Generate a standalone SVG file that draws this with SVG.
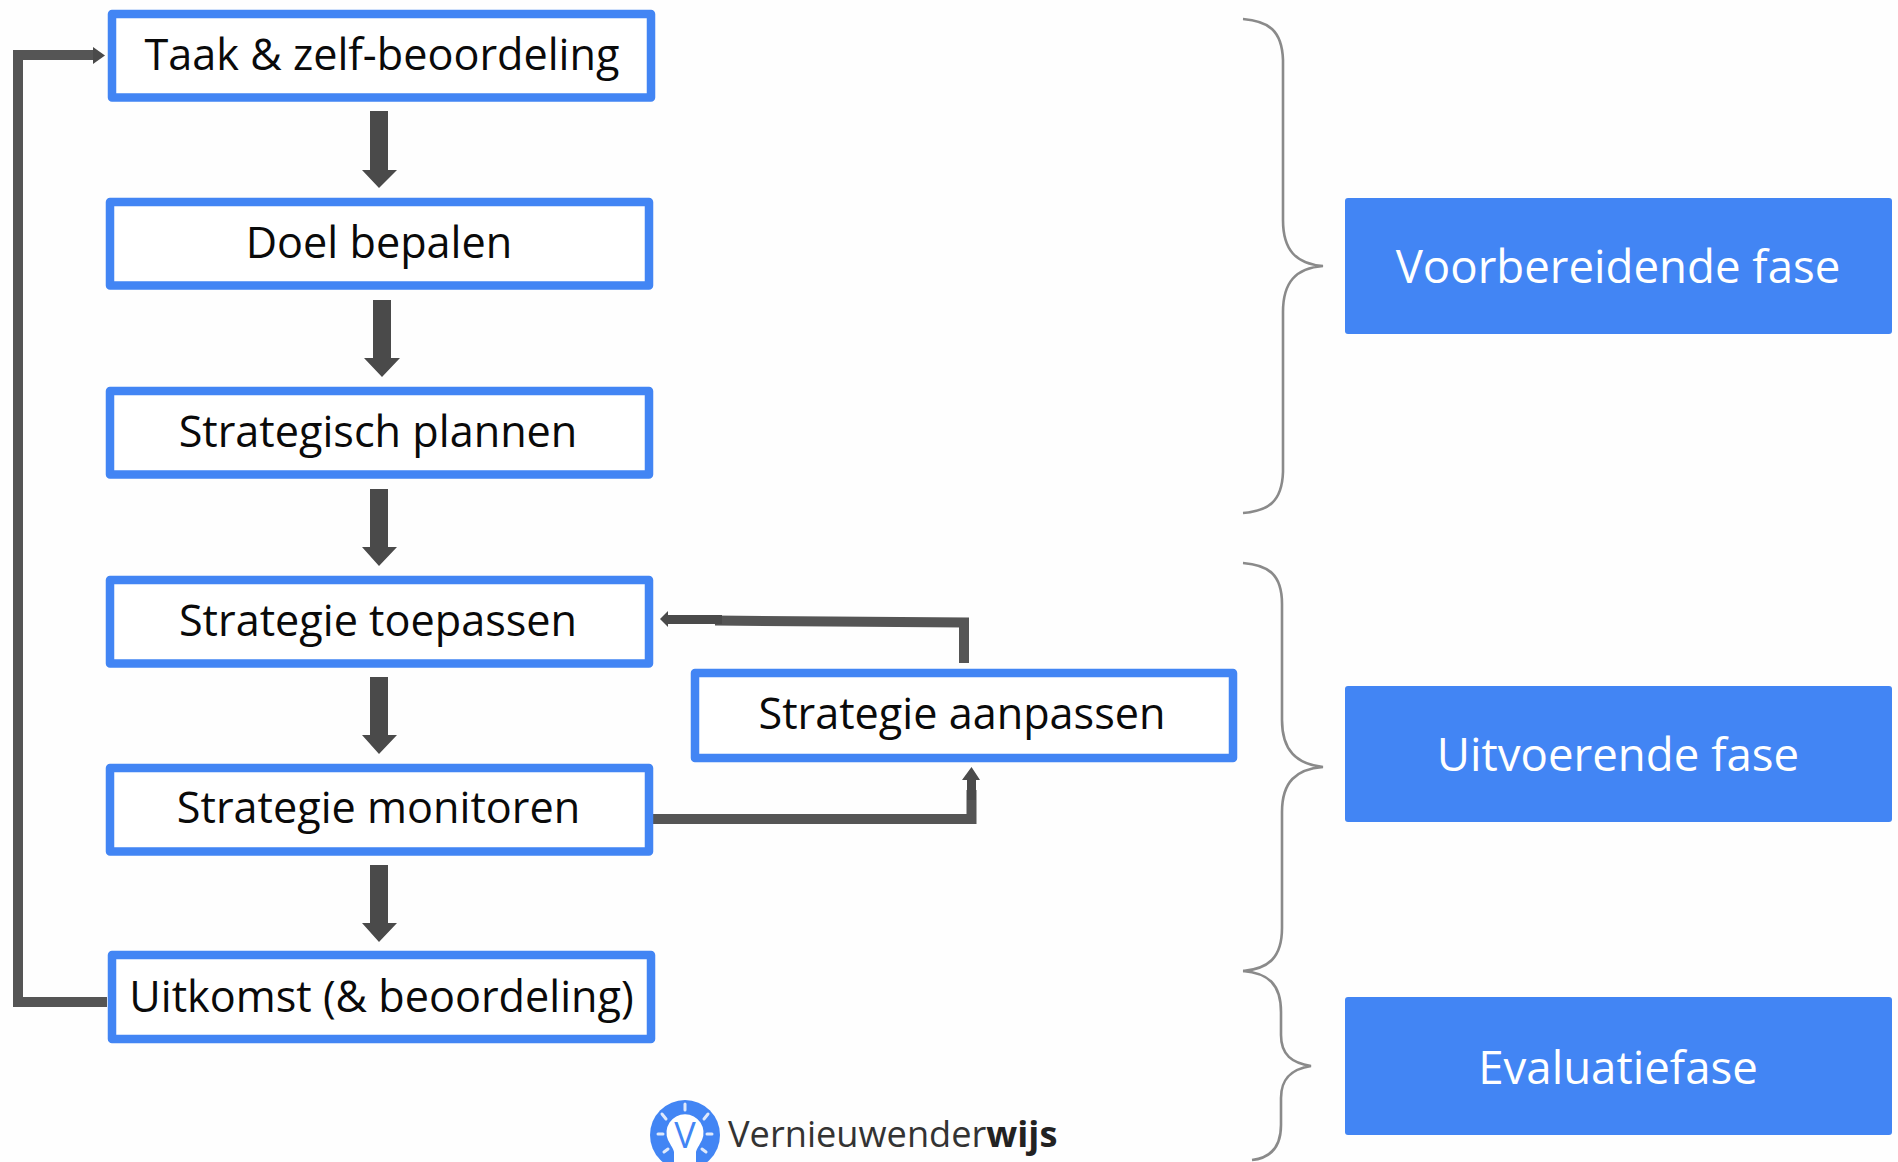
<svg xmlns="http://www.w3.org/2000/svg" width="1898" height="1162" viewBox="0 0 1898 1162">
<style>
.box{fill:#fff;stroke:#4285f4;stroke-width:8.5;stroke-linejoin:round}
.phase{fill:#4285f4}
.t{font-family:"Open Sans",sans-serif;font-size:43.2px;fill:#0a0a0a;text-anchor:middle}
.p{font-family:"Open Sans",sans-serif;font-size:45.600px;fill:#fff;text-anchor:middle}
.ar{fill:#4a4a4a}
.ln{fill:none;stroke:#555;stroke-width:10;stroke-linejoin:miter}
.br{fill:none;stroke:#8a8a8a;stroke-width:2.6}
</style>
<rect width="1898" height="1162" fill="#fefefe"/>
<g id="connectors">
<path class="ar" id="a1" d="M370 111H388V170H397L379 188L362 170H370Z"/>
<path class="ar" id="a2" d="M373 300H391V358H400L382 377L364 358H373Z"/>
<path class="ar" id="a3" d="M370 489H388V547H397L379 566L362 547H370Z"/>
<path class="ar" id="a4" d="M370 677H388V735H397L379 754L362 735H370Z"/>
<path class="ar" id="a5" d="M370 865H388V923H397L379 942L362 923H370Z"/>
<path class="ln" id="c1" d="M107 1002H18V55H95"/>
<path class="ar" d="M93 47L105 55.500L93 64Z"/>
<path class="ln" d="M964 663V622.500L715 620.500"/>
<path class="ar" d="M660 619L668 611V615H722V624H668V627Z"/>
<path class="ln" d="M650 819H971.500V790"/>
<path class="ar" d="M971.500 767L980 780H976V800H967V780H962Z"/>
</g>
<g id="braces">
<path class="br" d="M1243 19C1268 21 1282 30 1283 60V220C1283 250 1296 264 1323 266C1296 268 1283 282 1283 312V472C1282 502 1268 511 1243 513"/>
<path class="br" d="M1243 563C1268 565 1282 574 1282 604V720C1282 750 1296 764 1323 767C1296 769 1282 782 1282 812V928C1282 958 1268 969 1243 971"/>
<path class="br" d="M1243 971C1268 973 1281 984 1281 1012V1035C1281 1055 1292 1063 1311 1066C1292 1069 1281 1078 1281 1098V1125C1281 1148 1270 1158 1252 1160"/>
</g>
<g id="n1"><rect class="box" x="112" y="14" width="539" height="83.500"/><text class="t" x="382" y="70">Taak &amp; zelf-beoordeling</text></g>
<g id="n2"><rect class="box" x="110" y="202" width="539" height="83.500"/><text class="t" x="379" y="258">Doel bepalen</text></g>
<g id="n3"><rect class="box" x="110" y="391" width="539" height="83.500"/><text class="t" x="378" y="447">Strategisch plannen</text></g>
<g id="n4"><rect class="box" x="110" y="580" width="539" height="83.500"/><text class="t" x="378" y="635.500">Strategie toepassen</text></g>
<g id="n5"><rect class="box" x="110" y="768" width="539" height="83.500"/><text class="t" x="378.500" y="823">Strategie monitoren</text></g>
<g id="n6"><rect class="box" x="112" y="955" width="539" height="84"/><text class="t" x="381.500" y="1011.500">Uitkomst (&amp; beoordeling)</text></g>
<g id="n7"><rect class="box" x="695" y="673" width="538" height="85"/><text class="t" x="962" y="729">Strategie aanpassen</text></g>
<g id="p1"><rect class="phase" x="1345" y="198" width="547" height="136" rx="3"/><text class="p" x="1618" y="283">Voorbereidende fase</text></g>
<g id="p2"><rect class="phase" x="1345" y="686" width="547" height="136" rx="3"/><text class="p" x="1618" y="771">Uitvoerende fase</text></g>
<g id="p3"><rect class="phase" x="1345" y="997" width="547" height="138" rx="3"/><text class="p" x="1618" y="1083.500">Evaluatiefase</text></g>
<g id="logo">
<circle cx="685" cy="1135" r="35" fill="#4285f4"/>
<path d="M668 1140A18.500 18.500 0 1 1 702 1140C699 1146 697 1148 696 1152V1162H674V1152C673 1148 671 1146 668 1140Z" fill="#fff"/>
<path d="M685 1104V1110M662 1114L666 1119M708 1114L704 1119M658 1134H663M712 1134H707M664 1152L668 1149M706 1152L702 1149" stroke="#dfe9fb" stroke-width="3" stroke-linecap="round" fill="none"/>
<text x="685" y="1148" font-family="'Open Sans',sans-serif" font-size="36" fill="#4285f4" text-anchor="middle">V</text>
<text x="728" y="1147" font-family="'Open Sans',sans-serif" font-size="36.200" fill="#333">Vernieuwender<tspan font-weight="700" fill="#222">wijs</tspan></text>
</g>
</svg>
